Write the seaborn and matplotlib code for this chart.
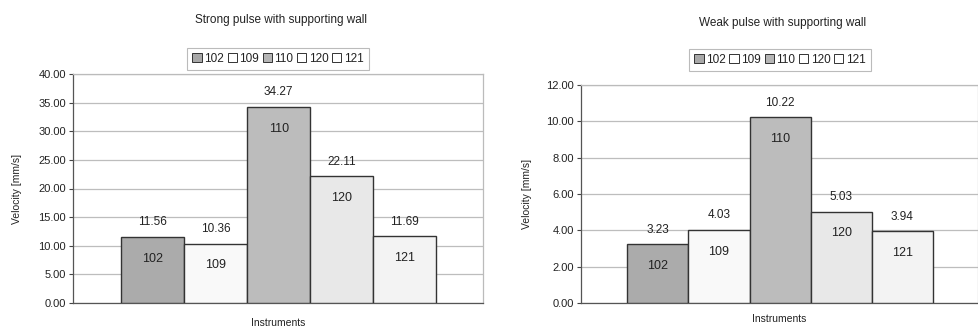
import matplotlib
matplotlib.use("Agg")
import matplotlib.pyplot as plt
import seaborn as sns
import pandas as pd

instruments = ["102", "109", "110", "120", "121"]
strong_vals = [11.56, 10.36, 34.27, 22.11, 11.69]
weak_vals = [3.23, 4.03, 10.22, 5.03, 3.94]
bar_colors = ["#ababab", "#f9f9f9", "#bcbcbc", "#e8e8e8", "#f3f3f3"]

sns.set_theme(style="white")
plt.rcParams["font.family"] = ["Liberation Sans", "DejaVu Sans"]

fig = plt.figure(figsize=(9.79, 3.29), dpi=100)
W, H = 979, 329


def panel(rect, vals, title, title_y, ymax, step, legend_box, xlab_y, ylab_x):
    x0, x1, y0, y1 = rect
    ax = fig.add_axes([x0 / W, 1 - y1 / H, (x1 - x0) / W, (y1 - y0) / H])
    df = pd.DataFrame({"Instrument": instruments, "Velocity": vals})
    sns.barplot(data=df, x="Instrument", y="Velocity", hue="Instrument",
                palette=bar_colors, width=1.0, edgecolor="#333333",
                linewidth=1.0, ax=ax, legend=False, zorder=3)
    ax.set_xlim(-1.26, 5.24)
    ax.set_ylim(0, ymax)
    ticks = [i * step for i in range(int(round(ymax / step)) + 1)]
    ax.set_yticks(ticks)
    ax.set_yticklabels([f"{t:.2f}" for t in ticks], fontsize=8, color="#222222")
    ax.tick_params(axis="y", length=3, width=0.8, color="#444444", pad=2, left=True)
    ax.set_xticks([])
    ax.yaxis.grid(True, color="#bdbdbd", linewidth=0.9, zorder=0)
    ax.set_axisbelow(True)
    for s in ["top", "right"]:
        ax.spines[s].set_color("#bbbbbb")
        ax.spines[s].set_linewidth(0.9)
    for s in ["left", "bottom"]:
        ax.spines[s].set_color("#555555")
        ax.spines[s].set_linewidth(0.9)
    ax.set_xlabel("")
    ax.set_ylabel("")
    fig.text((x0 + x1) / 2 / W, 1 - xlab_y / H, "Instruments", ha="center",
             va="center", fontsize=7.5, color="#222222")
    fig.text(ylab_x / W, 1 - (y0 + y1) / 2 / H, "Velocity [mm/s]", ha="center",
             va="center", rotation=90, fontsize=7.5, color="#222222")
    # value labels above, names inside
    for cont in ax.containers:
        ax.bar_label(cont, fmt="%.2f", padding=6, fontsize=8.5, color="#222222")
    for cont, name in zip(ax.containers, instruments):
        ax.bar_label(cont, labels=[name], label_type="edge", padding=-20,
                     fontsize=9, color="#222222")
    # legend
    handles = [plt.Rectangle((0, 0), 1, 1, facecolor=c, edgecolor="#333333", linewidth=0.7)
               for c in ["#a8a8a8", "#ffffff", "#b5b5b5", "#ffffff", "#ffffff"]]
    lx, ly = legend_box
    leg = fig.legend(handles, instruments, ncol=5, loc="center",
                     bbox_to_anchor=(lx / W, 1 - ly / H), fontsize=8.5,
                     frameon=True, fancybox=False, handlelength=0.8,
                     handleheight=0.8, handletextpad=0.2, columnspacing=0.3,
                     borderpad=0.45)
    leg.get_frame().set_edgecolor("#aaaaaa")
    leg.get_frame().set_linewidth(0.8)
    for t in leg.get_texts():
        t.set_color("#222222")
    fig.text(((x0 + x1) / 2 + 3) / W, 1 - title_y / H, title, ha="center",
             va="center", fontsize=8.5, color="#222222")
    return ax


panel((73, 483, 74, 303), strong_vals, "Strong pulse with supporting wall", 20,
      40, 5, (278, 59), 323, 17)
panel((581, 978, 85, 303), weak_vals, "Weak pulse with supporting wall", 23,
      12, 2, (780, 60), 319, 527)

fig.savefig("out.png", dpi=100)
